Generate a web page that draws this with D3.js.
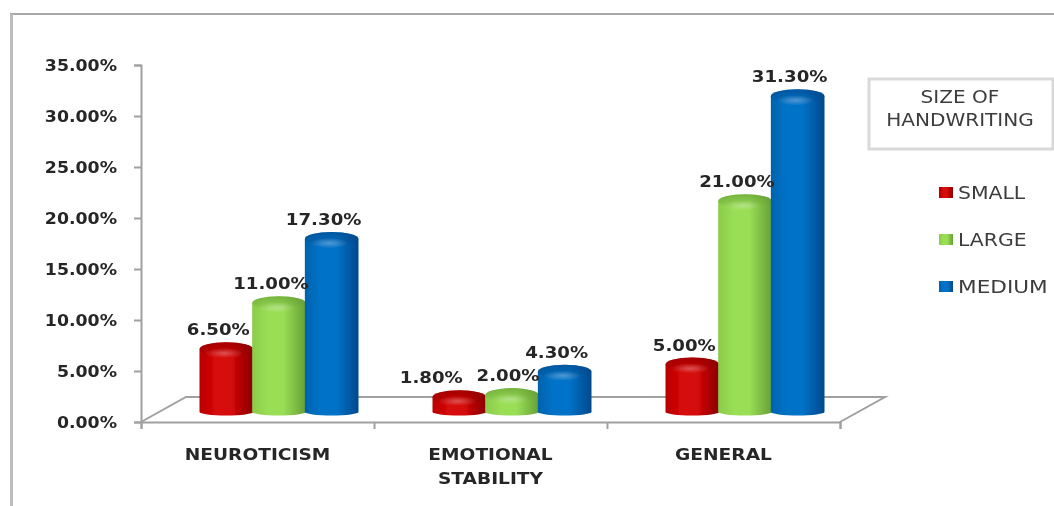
<!DOCTYPE html>
<html>
<head>
<meta charset="utf-8">
<script src="https://cdn.jsdelivr.net/npm/d3@7"></script>
<style>
  html, body { margin: 0; padding: 0; background: #fff; }
  svg { display: block; }
  text { font-family: "DejaVu Sans", sans-serif; }
</style>
</head>
<body>
<div id="one"></div>
<script>
var categories = ["NEUROTICISM", "EMOTIONAL STABILITY", "GENERAL"];
var seriesNames = ["SMALL", "LARGE", "MEDIUM"];
var small = [6.5, 1.8, 5.0];
var large = [11.0, 2.0, 21.0];
var medium = [17.3, 4.3, 31.3];
var yTicks = [0, 5, 10, 15, 20, 25, 30, 35];
var legendTitle = ["SIZE OF", "HANDWRITING"];

var values = [small, large, medium];
var width = 1054, height = 506;
var margin = {left: 141, right: 214, top: 65, bottom: 84};
var depthX = 45, depthY = 25;
var ends = ["#8a0000", "#66a035", "#00498c"];
var sides = ["#b80000", "#8bcb4a", "#0563ad"];
var mids = ["#d60808", "#9ade56", "#0573c8"];

var svg = d3.select("#one").append("svg")
  .attr("width", width)
  .attr("height", height);

var defs = svg.append("defs");
defs.append("filter").attr("id", "soft")
  .attr("x", "-5%").attr("y", "-5%").attr("width", "110%").attr("height", "110%")
  .append("feGaussianBlur").attr("stdDeviation", 0.7);

var glow = defs.append("radialGradient").attr("id", "glow");
glow.append("stop").attr("offset", "0%").attr("stop-color", "#fff").attr("stop-opacity", 0.3);
glow.append("stop").attr("offset", "100%").attr("stop-color", "#fff").attr("stop-opacity", 0);

seriesNames.forEach(function(name, i) {
  var grad = defs.append("linearGradient").attr("id", "body" + i);
  grad.append("stop").attr("offset", "0%").attr("stop-color", sides[i]);
  grad.append("stop").attr("offset", "30%").attr("stop-color", mids[i]);
  grad.append("stop").attr("offset", "58%").attr("stop-color", mids[i]);
  grad.append("stop").attr("offset", "100%").attr("stop-color", ends[i]);
  var shade = defs.append("linearGradient").attr("id", "shade" + i)
    .attr("x1", 0).attr("x2", 0).attr("y1", 0).attr("y2", 1);
  shade.append("stop").attr("offset", "0%").attr("stop-color", ends[i]).attr("stop-opacity", 0.7);
  shade.append("stop").attr("offset", "100%").attr("stop-color", ends[i]).attr("stop-opacity", 0);
});

// the original is a stretched screenshot, so the text gets pulled wider too
function stretch(sel, k) {
  sel.each(function() {
    d3.select(this)
      .attr("textLength", this.getComputedTextLength() * k)
      .attr("lengthAdjust", "spacingAndGlyphs");
  });
}

var chart = svg.append("g").attr("filter", "url(#soft)");

// frame round the whole picture
chart.append("line").attr("x1", 10).attr("x2", width).attr("y1", 14).attr("y2", 14)
  .attr("stroke", "#8a8a8a").attr("stroke-width", 1.5);
chart.append("line").attr("x1", 11.5).attr("x2", 11.5).attr("y1", 14).attr("y2", height)
  .attr("stroke", "#bdbdbd").attr("stroke-width", 3);

var x0 = d3.scaleBand()
  .domain(categories)
  .range([margin.left, width - margin.right]);
var x1 = d3.scaleBand()
  .domain(seriesNames)
  .range([59, 217]);
var y = d3.scaleLinear()
  .domain([0, 35])
  .range([height - margin.bottom, margin.top]);
// only used for the ticks between the groups
var xEdges = d3.scaleLinear()
  .domain([0, categories.length])
  .range(x0.range());

var floorY = y(0);
var left = x0.range()[0], right = x0.range()[1];

// floor
chart.append("path")
  .attr("d", "M" + left + "," + floorY + "L" + (left + depthX) + "," + (floorY - depthY) +
    "L" + (right + depthX) + "," + (floorY - depthY) + "L" + right + "," + floorY)
  .attr("fill", "none")
  .attr("stroke", "#a0a0a0")
  .attr("stroke-width", 2);

var yAxis = d3.axisLeft(y)
  .tickValues(yTicks)
  .tickSize(7)
  .tickFormat(function(d) { return d.toFixed(2) + "%"; });
var gy = chart.append("g")
  .attr("transform", "translate(" + left + ",0)")
  .call(yAxis);
gy.selectAll("text")
  .attr("x", -24)
  .style("font-family", '"DejaVu Sans", sans-serif')
  .style("font-size", "16.5px")
  .style("font-weight", "bold")
  .attr("fill", "#262626")
  .call(stretch, 1.05);

var edgeAxis = d3.axisBottom(xEdges)
  .tickValues(d3.range(categories.length + 1))
  .tickSize(7)
  .tickFormat("");
chart.append("g")
  .attr("transform", "translate(0," + floorY + ")")
  .call(edgeAxis);
chart.selectAll(".domain, .tick line")
  .attr("stroke", "#a0a0a0")
  .attr("stroke-width", 2);

// category labels, long names go on two lines
categories.forEach(function(cat) {
  var words = cat.length > 12 ? cat.split(" ") : [cat];
  words.forEach(function(w, i) {
    chart.append("text")
      .attr("x", x0(cat) + x0.bandwidth() / 2)
      .attr("y", 460 + i * 24)
      .attr("text-anchor", "middle")
      .attr("font-size", "15.5px")
      .attr("font-weight", "bold")
      .attr("fill", "#262626")
      .text(w)
      .call(stretch, 1.2);
  });
});

// cylinders
var baseY = floorY - 10;
var topLift = 6.5;
var rx = x1.bandwidth() / 2 + 0.5;
var ryTop = 7, ryBase = 3.5;

seriesNames.forEach(function(name, s) {
  categories.forEach(function(cat, c) {
    var cx = x0(cat) + x1(name) + x1.bandwidth() / 2;
    var top = y(values[s][c]) - topLift;
    var g = chart.append("g");
    g.append("path")
      .attr("d", "M" + (cx - rx) + "," + top +
        "L" + (cx - rx) + "," + baseY +
        "A" + rx + "," + ryBase + " 0 0 0 " + (cx + rx) + "," + baseY +
        "L" + (cx + rx) + "," + top +
        "A" + rx + "," + ryTop + " 0 0 0 " + (cx - rx) + "," + top + "Z")
      .attr("fill", "url(#body" + s + ")");
    g.append("ellipse")
      .attr("cx", cx).attr("cy", top)
      .attr("rx", rx).attr("ry", ryTop)
      .attr("fill", "url(#shade" + s + ")");
    g.append("ellipse")
      .attr("cx", cx - 2).attr("cy", top + 4)
      .attr("rx", rx * 0.7).attr("ry", 5)
      .attr("fill", "url(#glow)");
  });
});

// value labels go last so they sit over the bars, 1.80% was dragged left in the original
seriesNames.forEach(function(name, s) {
  categories.forEach(function(cat, c) {
    var v = values[s][c];
    var shift = -8;
    if (v === 1.8) shift = -28;
    if (v === 2.0) shift = -4;
    chart.append("text")
      .attr("x", x0(cat) + x1(name) + x1.bandwidth() / 2 + shift)
      .attr("y", y(v) - topLift - 14)
      .attr("text-anchor", "middle")
      .attr("font-size", "16.5px")
      .attr("font-weight", "bold")
      .attr("fill", "#262626")
      .text(v.toFixed(2) + "%")
      .call(stretch, 1.1);
  });
});

// legend title box
chart.append("rect")
  .attr("x", 869).attr("y", 79)
  .attr("width", 184).attr("height", 70)
  .attr("fill", "#fff")
  .attr("stroke", "#d9d9d9")
  .attr("stroke-width", 3);
legendTitle.forEach(function(t, i) {
  chart.append("text")
    .attr("x", 960)
    .attr("y", 103 + i * 23)
    .attr("text-anchor", "middle")
    .attr("font-size", "17px")
    .attr("fill", "#3c3c3c")
    .text(t)
    .call(stretch, 1.18);
});

// legend
var legendY = d3.scalePoint().domain(seriesNames).range([193, 287]);
seriesNames.forEach(function(name, i) {
  chart.append("rect")
    .attr("x", 939).attr("y", legendY(name) - 6)
    .attr("width", 14).attr("height", 11)
    .attr("fill", "url(#body" + i + ")");
  chart.append("text")
    .attr("x", 958)
    .attr("y", legendY(name) + 6)
    .attr("font-size", "17px")
    .attr("fill", "#3c3c3c")
    .text(name)
    .call(stretch, name === "MEDIUM" ? 1.27 : 1.2);
});
</script>
</body>
</html>
